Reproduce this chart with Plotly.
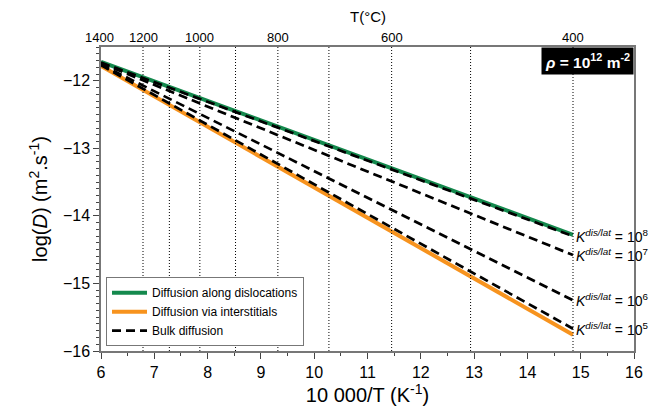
import plotly.graph_objects as go

# ---- data ----
x_range = [6.0, 14.855]           # 10000/T from 1400 °C to 400 °C
green_y = [-11.72, -14.28]        # Diffusion along dislocations
orange_y = [-11.78, -15.76]       # Diffusion via interstitials
bulk_k = ["8", "7", "6", "5"]     # K^{dis/lat} exponents
bulk_y = [
    [-11.73, -14.30],
    [-11.74, -14.58],
    [-11.76, -15.25],
    [-11.77, -15.67],
]
dotted_T = [1200, 1100, 1000, 900, 800, 700, 600, 500, 400]   # °C
top_T_labels = [1400, 1200, 1000, 800, 600, 400]               # °C

X_MIN, X_MAX = 6, 16
Y_MIN, Y_MAX = -16, -11.5

def inv(t):
    return 10000.0 / (t + 273.15)

GREEN = "#14894d"
ORANGE = "#f7931e"
FONT = "Liberation Sans, Arial, sans-serif"

fig = go.Figure()
fig.add_trace(go.Scatter(x=x_range, y=green_y, mode="lines",
                         line=dict(color=GREEN, width=4),
                         name="Diffusion along dislocations"))
fig.add_trace(go.Scatter(x=x_range, y=orange_y, mode="lines",
                         line=dict(color=ORANGE, width=4),
                         name="Diffusion via interstitials"))
for i, ys in enumerate(bulk_y):
    fig.add_trace(go.Scatter(x=x_range, y=ys, mode="lines",
                             line=dict(color="black", width=2.7, dash="9px,5px"),
                             name="Bulk diffusion", showlegend=(i == 0)))

# dotted isotherms
dx, dy = [], []
for t in dotted_T:
    dx += [inv(t), inv(t), None]
    dy += [Y_MIN, Y_MAX, None]
fig.add_trace(go.Scatter(x=dx, y=dy, mode="lines",
                         line=dict(color="black", width=1, dash="1px,2px"),
                         showlegend=False, hoverinfo="skip"))

# top temperature labels
for t in top_T_labels:
    fig.add_annotation(x=(inv(t) - X_MIN) / (X_MAX - X_MIN), y=1, xref="paper", yref="paper",
                       text=str(t), showarrow=False, xanchor="center", yanchor="bottom",
                       yshift=0, font=dict(family=FONT, size=13, color="black"))
fig.add_annotation(x=0.5, y=1, xref="paper", yref="paper", text="T(°C)", showarrow=False,
                   xanchor="center", yanchor="bottom", yshift=20,
                   font=dict(family=FONT, size=15, color="black"))

# K labels
for k, ys in zip(bulk_k, bulk_y):
    fig.add_annotation(x=x_range[1] + 0.02, y=ys[1], xref="x", yref="y",
                       text="<i>K</i><sup><i>dis/lat</i></sup> = 10<sup>%s</sup>" % k,
                       showarrow=False, xanchor="left", yanchor="middle",
                       font=dict(family=FONT, size=14, color="black"))

# rho box
fig.add_annotation(x=1, y=1, xref="paper", yref="paper", xanchor="right", yanchor="top",
                   text="<b><i>ρ</i> = 10<sup>12</sup> m<sup>-2</sup></b>",
                   showarrow=False, bgcolor="black",
                   font=dict(family=FONT, size=15.5, color="white"), borderpad=3)

axis_line = "#777777"
fig.update_layout(
    width=657, height=409,
    margin=dict(l=101, r=23, t=47, b=58, autoexpand=False),
    plot_bgcolor="white", paper_bgcolor="white",
    font=dict(family=FONT, color="black"),
    xaxis=dict(range=[X_MIN, X_MAX], dtick=1, tick0=6, ticks="outside", ticklen=6, tickwidth=1,
               tickcolor="#444", showline=True, linecolor=axis_line, linewidth=1.5, mirror=True,
               showgrid=False, zeroline=False, tickfont=dict(size=16), automargin=False,
               minor=dict(dtick=0.5, ticks="outside", ticklen=3, tickcolor="#444"),
               title=dict(text="10 000/T (K<sup>-1</sup>)", font=dict(size=20), standoff=6)),
    yaxis=dict(range=[Y_MIN, Y_MAX], dtick=1, ticks="outside", ticklen=6, tickwidth=1,
               tickcolor="#444", showline=True, linecolor=axis_line, linewidth=1.5, mirror=True,
               showgrid=False, zeroline=False, tickfont=dict(size=16), automargin=False,
               minor=dict(dtick=0.1, ticks="outside", ticklen=3, tickcolor="#444"),
               title=dict(text="log(<i>D</i>) (m<sup>2</sup>.s<sup>-1</sup>)", font=dict(size=20),
                          standoff=10)),
    legend=dict(x=0.0094, y=0.016, xanchor="left", yanchor="bottom", bgcolor="white",
                bordercolor="#777", borderwidth=1, font=dict(size=12),
                tracegroupgap=0, itemwidth=35),
    showlegend=True,
)

fig.write_html("out.html")
